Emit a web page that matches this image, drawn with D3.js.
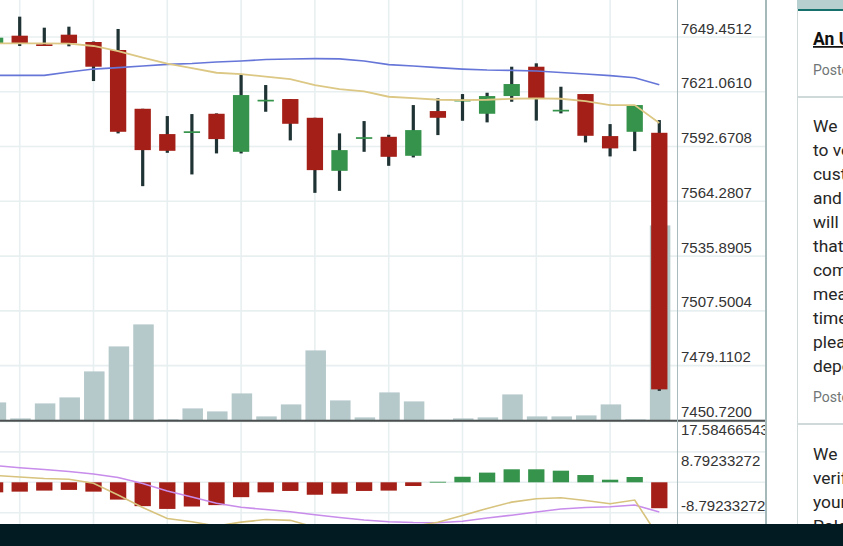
<!DOCTYPE html>
<html>
<head>
<meta charset="utf-8">
<script src="https://cdn.jsdelivr.net/npm/d3@7/dist/d3.min.js"></script>
<style>
html,body{margin:0;padding:0;overflow:hidden;background:#fff;width:843px;height:546px}
svg{display:block}
</style>
</head>
<body>
<svg id="chart" width="843" height="546"></svg>
<script>
// ---------------- DATA ----------------
const periods = [1,2,3,4,5,6,7,8,9,10,11,12,13,14,15,16,17,18,19,20,21,22,23,24,25,26,27,28];
const opens  = [7646.19,7650.13,7645.67,7650.65,7646.86,7642.71,7612.25,7599.13,7600.32,7609.66,7589.94,7616.61,7617.29,7607.58,7580.08,7597.26,7597.72,7587.87,7611.06,7616.61,7609.66,7618.84,7634.05,7611.42,7619.88,7598.09,7600.32,7599.80];
const highs  = [7649.98,7659.99,7654.28,7654.80,7647.12,7653.61,7612.25,7608.47,7609.50,7609.87,7629.74,7624.55,7617.29,7607.58,7599.49,7605.87,7598.76,7614.17,7617.65,7619.88,7620.56,7634.05,7635.81,7623.67,7619.88,7604.31,7614.17,7606.39];
const lows   = [7645.83,7644.79,7644.79,7644.63,7626.63,7599.49,7572.14,7589.42,7578.21,7589.11,7589.11,7610.70,7595.86,7568.67,7569.70,7589.94,7582.68,7587.03,7598.61,7606.03,7605.20,7615.89,7606.13,7609.87,7594.82,7587.55,7590.30,7466.03];
const closes = [7649.10,7646.19,7644.94,7646.19,7634.05,7600.32,7590.82,7590.46,7600.58,7596.53,7619.36,7616.92,7604.47,7580.45,7590.82,7597.52,7587.35,7601.20,7607.58,7616.92,7618.84,7625.07,7617.55,7611.73,7598.24,7591.71,7614.17,7466.81];
const volumes = [18,2,17,23,49,74,96,1,12,9,27,4,16,70,20,3,28,19,0.5,2,3,26,4,4,5,16,1,195];
const maFast = [7646.19,7646.19,7646.19,7645.98,7644.79,7642.19,7638.82,7635.60,7633.37,7630.93,7630.26,7628.96,7627.66,7624.55,7622.48,7621.28,7618.48,7617.81,7616.92,7616.77,7616.92,7617.44,7617.65,7617.44,7616.25,7614.17,7614.17,7604.83];
const maSlow = [7629.58,7629.58,7629.58,7631.30,7632.85,7633.53,7634.41,7635.29,7635.71,7636.49,7637.00,7637.78,7638.04,7638.20,7638.15,7637.00,7635.09,7634.41,7633.53,7632.85,7632.34,7632.18,7631.82,7631.04,7630.26,7629.48,7628.34,7624.71];
const macdLine   = [1.97,1.53,1.10,0.87,-0.29,-3.67,-7.29,-10.47,-11.4,-12.67,-11.53,-10.77,-11.0,-13.0,-13.48,-13.4,-13.8,-12.7,-11.53,-9.6,-7.55,-5.73,-4.74,-4.45,-5.26,-6.19,-5.12,-16.11];
const signalLine = [4.86,4.22,3.70,3.12,2.40,1.39,-0.35,-2.52,-4.25,-6.07,-7.23,-7.87,-8.50,-9.40,-10.18,-10.90,-11.40,-11.63,-11.68,-11.28,-10.33,-9.52,-8.59,-7.72,-7.29,-7.06,-6.57,-8.59];
const histogram  = [-2.9,-2.7,-2.4,-2.2,-2.7,-5.0,-6.9,-7.7,-7.0,-6.6,-4.3,-2.9,-2.5,-3.6,-3.3,-2.5,-2.4,-1.07,0.15,1.6,2.8,3.76,3.76,3.36,2.1,0.75,1.53,-7.5];
const priceTicks  = [7649.4512,7621.0610,7592.6708,7564.2807,7535.8905,7507.5004,7479.1102,7450.7200];
const priceLabels = ["7649.4512","7621.0610","7592.6708","7564.2807","7535.8905","7507.5004","7479.1102","7450.7200"];
const macdTicks  = [17.58466543,8.79233272,0,-8.79233272,-17.58466543];
const macdLabels = ["17.58466543","8.79233272","","-8.79233272",""];
const sideTitle = "An Update on Account Verification";
const sidePosted = "Posted by Poloniex Team";
const sideBody1 = ["We are working hard","to verify all of our","customers as quickly","and thoroughly as we can. We","will be in touch with anyone","that needs to provide more","compliance details. This","means that for a short","time, withdrawals may be slow;","please bear with us and","deposit as usual."];
const sideBody2 = ["We are continuing to","verify the identity of","your account with","Poloniex support."];

// ---------------- SETUP ----------------
const svg = d3.select("#chart");
const PLOT_R = 677, AXIS_R = 766, FOOT_Y = 524;
const COLORS = {grid:"#e8eff0", up:"#35934b", down:"#a41f17", wick:"#1f3234", vol:"#b5c8ca",
  maFast:"#dcc884", maSlow:"#6676d8", macd:"#d7c37d", signal:"#c88ceb", text:"#333"};

const x = d3.scalePoint().domain(periods).range([-4.9, 659.3]);
const bodyW = 16.3, volW = 20.5;
const yP = d3.scaleLinear().domain([priceTicks[priceTicks.length-1], priceTicks[0]]).range([420.4, 37]);
const yV = d3.scaleLinear().domain([0, 420]).range([420.4, 0.4]);
const yM = d3.scaleLinear().domain([macdTicks[3], macdTicks[0]]).range([512.7, 421.5]);

const defs = svg.append("defs");
defs.append("clipPath").attr("id","clipTop").append("rect").attr("x",0).attr("y",0).attr("width",PLOT_R).attr("height",420);
defs.append("clipPath").attr("id","clipBot").append("rect").attr("x",0).attr("y",421.5).attr("width",PLOT_R).attr("height",125);
defs.append("clipPath").attr("id","clipAxis").append("rect").attr("x",PLOT_R).attr("y",0).attr("width",AXIS_R-PLOT_R).attr("height",546);

const rows = periods.map((p,i)=>({p, o:opens[i], h:highs[i], l:lows[i], c:closes[i], v:volumes[i],
  f:maFast[i], s:maSlow[i], m:macdLine[i], sg:signalLine[i], hi:histogram[i]}));

// ---------------- GRID ----------------
const grid = svg.append("g");
grid.selectAll(".hg").data(priceTicks).join("line")
  .attr("x1",0).attr("x2",AXIS_R).attr("y1",d=>yP(d)).attr("y2",d=>yP(d))
  .attr("stroke",COLORS.grid).attr("stroke-width",1.6);
grid.selectAll(".mg").data(macdTicks).join("line")
  .attr("x1",0).attr("x2",AXIS_R).attr("y1",d=>yM(d)).attr("y2",d=>yM(d))
  .attr("stroke",COLORS.grid).attr("stroke-width",1.6);
grid.selectAll(".vg").data(periods.filter((d,i)=> i%3===1)).join("line")
  .attr("x1",d=>x(d)).attr("x2",d=>x(d)).attr("y1",0).attr("y2",FOOT_Y)
  .attr("stroke",COLORS.grid).attr("stroke-width",1.6);

// ---------------- PRICE PANE ----------------
const pricePane = svg.append("g").attr("clip-path","url(#clipTop)");
pricePane.selectAll(".vol").data(rows).join("rect")
  .attr("x",d=>x(d.p)+0.8-volW/2).attr("width",volW)
  .attr("y",d=>yV(d.v)).attr("height",d=>yV(0)-yV(d.v))
  .attr("fill",COLORS.vol);
pricePane.selectAll(".wick").data(rows).join("rect")
  .attr("x",d=>x(d.p)-1.6).attr("width",3.2)
  .attr("y",d=>yP(d.h)).attr("height",d=>yP(d.l)-yP(d.h))
  .attr("fill",COLORS.wick);
pricePane.selectAll(".body").data(rows).join("rect")
  .attr("x",d=>x(d.p)-bodyW/2).attr("width",bodyW)
  .attr("y",d=>yP(Math.max(d.o,d.c)))
  .attr("height",d=>Math.max(1.7, Math.abs(yP(d.o)-yP(d.c))))
  .attr("fill",d=>d.c>=d.o?COLORS.up:COLORS.down);
const lineP = key => d3.line().x(d=>x(d.p)).y(d=>yP(d[key]));
pricePane.append("path").datum(rows).attr("d",lineP("s")).attr("fill","none").attr("stroke",COLORS.maSlow).attr("stroke-width",1.7);
pricePane.append("path").datum(rows).attr("d",lineP("f")).attr("fill","none").attr("stroke",COLORS.maFast).attr("stroke-width",1.8);

// ---------------- MACD PANE ----------------
const macdPane = svg.append("g").attr("clip-path","url(#clipBot)");
macdPane.selectAll(".hist").data(rows).join("rect")
  .attr("x",d=>x(d.p)-bodyW/2).attr("width",bodyW)
  .attr("y",d=>yM(Math.max(0,d.hi)))
  .attr("height",d=>Math.max(0.8, Math.abs(yM(d.hi)-yM(0))))
  .attr("fill",d=>d.hi>=0?COLORS.up:COLORS.down);
const lineM = key => d3.line().x(d=>x(d.p)).y(d=>yM(d[key]));
macdPane.append("path").datum(rows).attr("d",lineM("sg")).attr("fill","none").attr("stroke",COLORS.signal).attr("stroke-width",1.6);
macdPane.append("path").datum(rows).attr("d",lineM("m")).attr("fill","none").attr("stroke",COLORS.macd).attr("stroke-width",1.6);

// separator between panes
svg.append("line").attr("x1",0).attr("x2",AXIS_R).attr("y1",420.7).attr("y2",420.7)
  .attr("stroke","#4b4f50").attr("stroke-width",2);

// ---------------- AXIS ----------------
const ax = svg.append("g").attr("clip-path","url(#clipAxis)")
  .style("font-family","'Liberation Sans', Arial, sans-serif").style("font-size","15px").attr("fill",COLORS.text);
ax.selectAll(".pl").data(priceTicks).join("text")
  .attr("x",681).attr("y",d=>yP(d)-3.5).text((d,i)=>priceLabels[i]);
ax.selectAll(".ml").data(macdTicks).join("text")
  .attr("x",681).attr("y",d=>d>0? yM(d)+13.8 : yM(d)-1.8).text((d,i)=>macdLabels[i]);
svg.append("line").attr("x1",PLOT_R+0.5).attr("x2",PLOT_R+0.5).attr("y1",0).attr("y2",546)
  .attr("stroke","#a9bbbd").attr("stroke-width",1);
svg.append("line").attr("x1",AXIS_R).attr("x2",AXIS_R).attr("y1",0).attr("y2",546)
  .attr("stroke","#a5b8ba").attr("stroke-width",2);

// ---------------- SIDEBAR ----------------
const side = svg.append("g");
side.append("rect").attr("x",797).attr("y",0).attr("width",46).attr("height",9).attr("fill","#b8cfcf");
side.append("rect").attr("x",797).attr("y",9).attr("width",46).attr("height",2).attr("fill","#16706b");
side.append("line").attr("x1",797.5).attr("x2",797.5).attr("y1",9).attr("y2",546).attr("stroke","#d0dadb").attr("stroke-width",1);
side.append("rect").attr("x",797).attr("y",96).attr("width",46).attr("height",2).attr("fill","#cfd9da");
side.append("rect").attr("x",797).attr("y",423).attr("width",46).attr("height",2).attr("fill","#cfd9da");
const sf = "Roboto, 'Noto Sans', sans-serif";
side.append("text").attr("x",813).attr("y",45).text(sideTitle)
  .style("font-family",sf).style("font-size","17.5px").style("font-weight","bold")
  .style("text-decoration","underline").attr("fill","#111");
side.append("text").attr("x",813).attr("y",74.5).text(sidePosted)
  .style("font-family",sf).style("font-size","14px").attr("fill","#6f7576");
side.selectAll(".b1").data(sideBody1).join("text")
  .attr("x",813).attr("y",(d,i)=>132+i*24).text(d=>d)
  .attr("word-spacing",(d,i)=>i===0?26:0)
  .style("font-family",sf).style("font-size","17.4px").attr("fill","#262626");
side.append("text").attr("x",813).attr("y",401.5).text(sidePosted)
  .style("font-family",sf).style("font-size","14px").attr("fill","#6f7576");
side.selectAll(".b2").data(sideBody2).join("text")
  .attr("x",813).attr("y",(d,i)=>460+i*24).text(d=>d)
  .attr("word-spacing",(d,i)=>i===0?26:0)
  .style("font-family",sf).style("font-size","17.4px").attr("fill","#262626");

// ---------------- FOOTER BAR ----------------
svg.append("rect").attr("x",0).attr("y",FOOT_Y).attr("width",843).attr("height",546-FOOT_Y).attr("fill","#021b23");
</script>
</body>
</html>
